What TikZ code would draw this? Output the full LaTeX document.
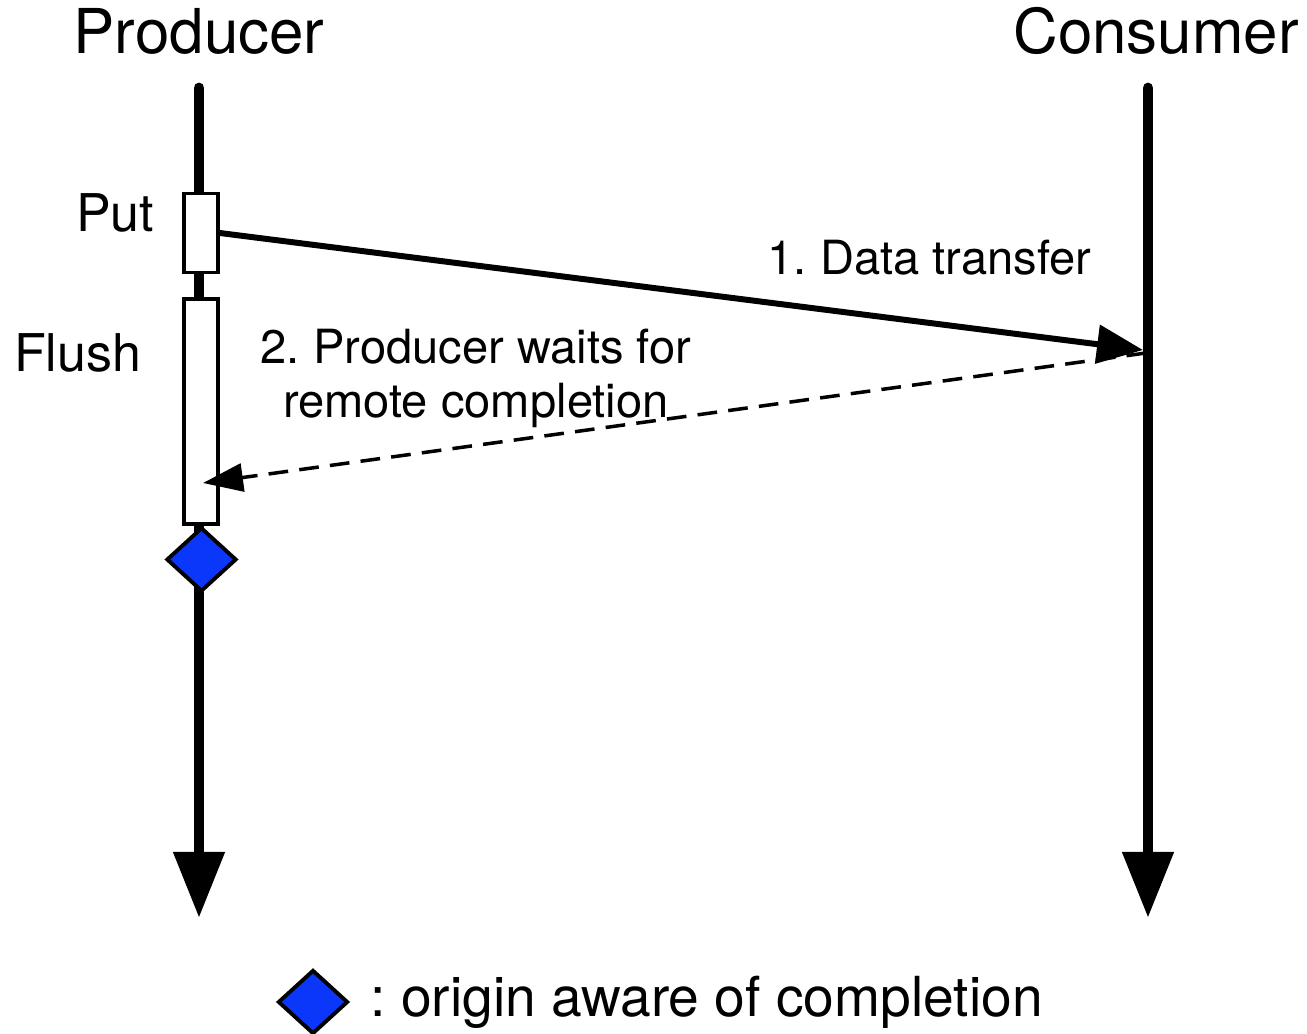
\documentclass[tikz,border=0pt]{standalone}
\usepackage{fontspec}
\setmainfont{TeX Gyre Heros}
\frenchspacing
\usetikzlibrary{arrows.meta, positioning, shapes.geometric}
\definecolor{awareblue}{RGB}{10,55,250}
\tikzset{
  lifeline/.style={line width=3.1pt, line cap=round, -{Triangle[length=6.6mm, width=4.9mm]}},
  actbox/.style={draw, line width=1pt, fill=white, minimum width=3.4mm, inner sep=0pt},
  aware/.style={draw, diamond, line width=1.1pt, fill=awareblue, inner sep=0pt, minimum width=7mm, minimum height=6.4mm},
  msg/.style={line width=1.7pt, -{Triangle[length=4.6mm, width=3.8mm]}},
  reply/.style={line width=1pt, dash pattern=on 5.6pt off 3.2pt, -{Triangle[length=4mm, width=2.8mm]}},
  title/.style={font=\fontsize{17.6}{21}\selectfont, inner sep=0pt},
  phase/.style={font=\fontsize{14.8}{18}\selectfont, inner sep=0pt},
  note/.style={font=\fontsize{13.4}{15.4}\selectfont, inner sep=0pt, align=center},
  legend/.style={font=\fontsize{15.7}{19}\selectfont, inner sep=0pt}
}
\begin{document}
\begin{tikzpicture}
  \useasboundingbox (0,0) rectangle (13.07,-10.34);
  % lifelines
  \node[title, anchor=base] (prod) at (1.99,-0.54) {Producer};
  \node[title, anchor=base] (cons) at (11.56,-0.54) {Consumer};
  \coordinate (ptop) at (1.99,-0.88);
  \coordinate (pend) at (1.99,-9.18);
  \coordinate (ctop) at (11.48,-0.88);
  \coordinate (cend) at (11.48,-9.18);
  \draw[lifeline] (ptop) -- (pend);
  \draw[lifeline] (ctop) -- (cend);

  % activity boxes
  \node[actbox, minimum height=7.9mm] (put) at (2.01,-2.33) {};
  \node[actbox, minimum height=22.5mm] (flush) at (2.01,-4.115) {};
  \node[aware] (done) at (2.015,-5.595) {};
  \node[phase, anchor=base east] (putlbl) at (1.55,-2.32) {Put};
  \node[phase, anchor=base east] (flushlbl) at (1.42,-3.72) {Flush};

  % messages
  \coordinate (recv) at (11.43,-3.50);
  \coordinate (ack) at (11.46,-3.53);
  \coordinate (wait) at (2.03,-4.83);
  \draw[msg] (put.east) -- (recv);
  \draw[reply] (ack) -- (wait);
  \node[note, anchor=base west] (xfer) at (7.67,-2.75) {1. Data transfer};
  \node[note] (waitlbl) at (4.76,-3.78) {2. Producer waits for\\remote completion};

  % legend
  \node[aware] (legdia) at (3.13,-10.02) {};
  \node[legend, right=2mm of legdia] (legtxt) {: origin aware of completion};
\end{tikzpicture}
\end{document}
